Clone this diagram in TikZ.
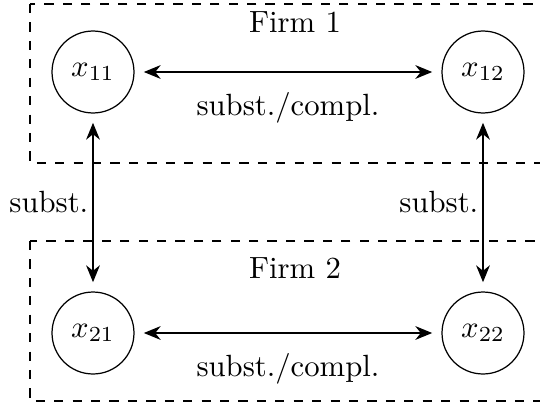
\documentclass[tikz,border=0pt]{standalone}
\usetikzlibrary{arrows.meta}
\begin{document}
\begin{tikzpicture}[x=0.3257pt,y=-0.3257pt,
  var/.style={draw,circle,minimum size=26.7pt,inner sep=0pt},
  firmbox/.style={draw,dashed},
  link/.style={{Stealth[length=5.5pt,width=4.5pt]}-{Stealth[length=5.5pt,width=4.5pt]},shorten >=3pt,shorten <=3pt},
  lbl/.style={inner sep=2pt}]
\useasboundingbox (0,0) rectangle (540,406);
\clip (0,0) rectangle (540,406);
\draw[firmbox] (30,4) rectangle (546,163);
\draw[firmbox] (30,241) rectangle (546,401);
\node (f1) at (295,22) {Firm 1};
\node (f2) at (295,268) {Firm 2};
\node[var] (x11) at (93,72) {$x_{11}$};
\node[var] (x12) at (483,72) {$x_{12}$};
\node[var] (x21) at (93,333) {$x_{21}$};
\node[var] (x22) at (483,333) {$x_{22}$};
\draw[link] (x11) -- node[below=3pt] (l1) {subst./compl.} (x12);
\draw[link] (x21) -- node[below=3pt] (l2) {subst./compl.} (x22);
\draw[link] (x11) -- (x21);
\draw[link] (x12) -- (x22);
\node[lbl,anchor=east] (s1) at (95,202) {subst.};
\node[lbl,anchor=east] (s2) at (485,202) {subst.};
\end{tikzpicture}
\end{document}
